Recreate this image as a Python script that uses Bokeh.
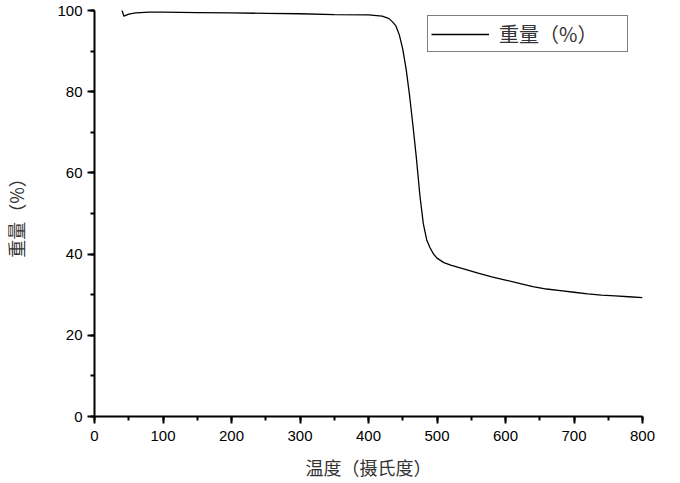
from bokeh.plotting import figure
from bokeh.models import Range1d, SingleIntervalTicker, Legend, LegendItem
from bokeh.embed import file_html
from bokeh.resources import INLINE

temperature = [40, 43, 50, 60, 80, 100, 150, 200, 250, 300, 350, 400, 420, 430, 435, 440,
               445, 450, 455, 460, 465, 470, 475, 480, 485, 490, 495, 500, 510, 520, 540,
               560, 580, 600, 620, 640, 660, 680, 700, 720, 740, 760, 780, 800]
weight = [100.1, 98.6, 99.1, 99.4, 99.6, 99.6, 99.5, 99.4, 99.3, 99.2, 99.0, 98.9, 98.6,
          98.0, 97.2, 96.2, 94.0, 90.5, 85.5, 79.0, 71.5, 63.5, 54.5, 47.5, 43.5, 41.5,
          40.0, 39.0, 37.9, 37.3, 36.3, 35.3, 34.4, 33.6, 32.8, 32.0, 31.4, 31.0, 30.6,
          30.2, 29.9, 29.7, 29.5, 29.3]
series_name = "重量（%）"
x_title = "温度（摄氏度）"
y_title = "重量（%）"

p = figure(width=680, height=482, x_range=Range1d(0, 800), y_range=Range1d(0, 100),
           output_backend="svg", toolbar_location=None,
           min_border_left=93, min_border_right=38, min_border_top=10, min_border_bottom=66)
p.outline_line_color = None
p.xgrid.visible = False
p.ygrid.visible = False
p.background_fill_color = "white"

r = p.line(temperature, weight, line_color="black", line_width=1.3)

p.xaxis.ticker = SingleIntervalTicker(interval=100, num_minor_ticks=2)
p.yaxis.ticker = SingleIntervalTicker(interval=20, num_minor_ticks=2)

for ax in (p.xaxis[0], p.yaxis[0]):
    ax.axis_line_width = 2
    ax.major_tick_line_width = 2
    ax.minor_tick_line_width = 2
    ax.major_tick_out = 7
    ax.major_tick_in = 0
    ax.minor_tick_out = 4
    ax.minor_tick_in = 0
    ax.major_label_text_font = "Liberation Sans"
    ax.major_label_text_font_size = "15px"
    ax.major_label_text_color = "black"
    ax.axis_label_text_font = "Noto Sans CJK SC"
    ax.axis_label_text_font_size = "18px"
    ax.axis_label_text_font_style = "normal"
    ax.axis_label_text_color = "#333333"

p.xaxis.axis_label = x_title
p.yaxis.axis_label = y_title
p.xaxis.major_label_standoff = 7
p.yaxis.major_label_standoff = 5
p.xaxis.axis_label_standoff = 10
p.yaxis.axis_label_standoff = 25

legend = Legend(items=[LegendItem(label=series_name, renderers=[r])],
                location=(333, 364), padding=3, margin=0, spacing=0,
                glyph_width=58, glyph_height=20, label_height=20,
                label_standoff=10, label_width=125,
                border_line_color="black", border_line_width=1.5,
                label_text_font="Noto Sans CJK SC", label_text_font_size="20px",
                label_text_color="#333333", background_fill_alpha=1)
p.add_layout(legend, "center")

open("out.html", "w").write(file_html(p, INLINE))
